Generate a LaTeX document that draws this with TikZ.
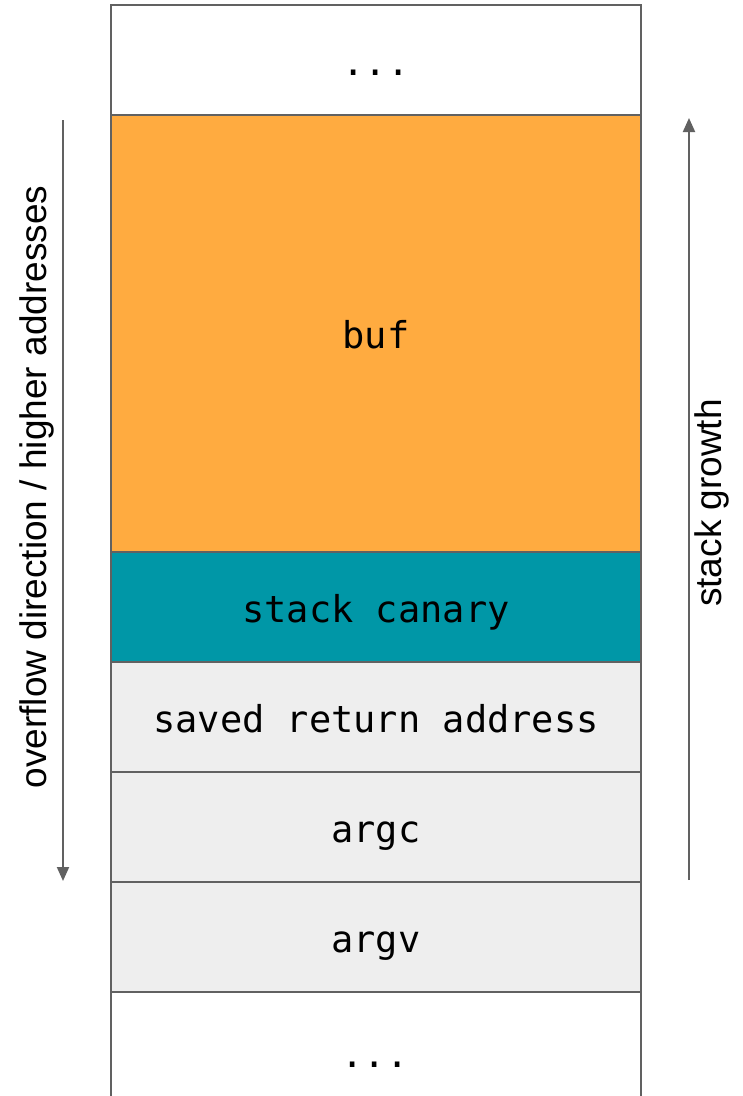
\documentclass[tikz,border=0pt]{standalone}
\usepackage{fontspec}
\setmainfont{Liberation Sans}
\newfontfamily\codefont{DejaVu Sans Mono}
\usetikzlibrary{arrows.meta}
\definecolor{edgegray}{HTML}{616161}
\definecolor{bufcolor}{HTML}{FFAB40}
\definecolor{canarycolor}{HTML}{0097A7}
\definecolor{slotgray}{HTML}{EEEEEE}
\tikzset{
  x=1pt, y=-1pt,
  codetext/.style={font=\codefont\fontsize{37}{42}\selectfont,
    text height=30pt, text depth=0pt, inner sep=0pt},
  slot/.style={codetext, draw=edgegray, line width=2pt, minimum width=530pt,
    anchor=north west},
  dirarrow/.style={draw=edgegray, line width=2pt,
    -{Triangle[length=14pt,width=12pt]}},
  sidelabel/.style={font=\fontsize{37}{42}\selectfont, rotate=90}
}
\begin{document}
\begin{tikzpicture}
\useasboundingbox (0,0) rectangle (743,1096);
% stack slots, from the top of the picture down
\node[slot, fill=white, minimum height=110pt] (top) at (110,4) {...};
\node[slot, fill=bufcolor, minimum height=437pt] (buf) at (110,114) {buf};
\node[slot, fill=canarycolor, minimum height=110pt] (canary) at (110,551) {stack canary};
\node[slot, fill=slotgray, minimum height=110pt] (ret) at (110,661) {saved return address};
\node[slot, fill=slotgray, minimum height=110pt] (argc) at (110,771) {argc};
\node[slot, fill=slotgray, minimum height=110pt] (argv) at (110,881) {argv};
\node[slot, fill=white, minimum height=130pt] (bottom) at (110,991) {};
\node[codetext] (bottomdots) at (375,1052) {...};
% direction arrows
\coordinate (ovtop) at (63,120);
\coordinate (ovbot) at (63,881);
\coordinate (grbot) at (689,880);
\coordinate (grtop) at (689,118);
\draw[dirarrow] (ovtop) -- (ovbot);
\draw[dirarrow] (grbot) -- (grtop);
\node[sidelabel] (ovlabel) at (37,487) {overflow direction / higher addresses};
\node[sidelabel] (grlabel) at (712,503) {stack growth};
\end{tikzpicture}
\end{document}
